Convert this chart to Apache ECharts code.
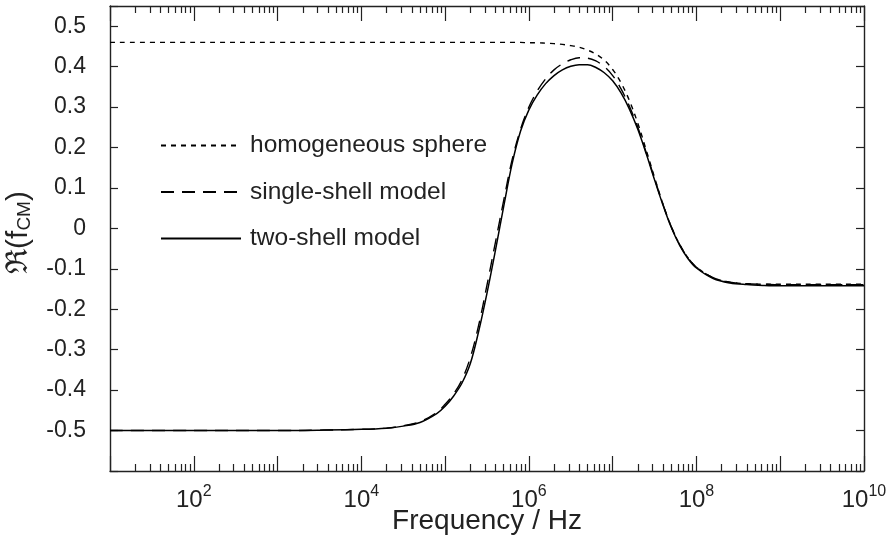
<!DOCTYPE html>
<html>
<head>
<meta charset="utf-8">
<script src="https://cdn.jsdelivr.net/npm/echarts@6/dist/echarts.min.js"></script>
<style>
html,body{margin:0;padding:0;background:#fff;}
#chart{width:894px;height:541px;}
</style>
</head>
<body>
<div id="chart"></div>
<script>
// log10 of frequency (Hz)
const logFreq = [1, 2, 3, 3.5, 4, 4.3, 4.5, 4.7, 4.9, 5.0, 5.1, 5.2, 5.3, 5.4, 5.5, 5.6, 5.7, 5.8, 5.9, 6.0,
  6.1, 6.2, 6.3, 6.4, 6.5, 6.6, 6.7, 6.8, 6.9, 7.0, 7.1, 7.2, 7.3, 7.4, 7.5, 7.6, 7.7, 7.8, 7.9, 8.0,
  8.2, 8.4, 8.6, 8.8, 9.0, 9.5, 10];

const homogeneousSphere = [0.46, 0.46, 0.46, 0.46, 0.46, 0.46, 0.46, 0.46, 0.46, 0.46, 0.46, 0.46, 0.46, 0.46, 0.46, 0.46, 0.46, 0.46, 0.46, 0.459,
  0.459, 0.458, 0.457, 0.455, 0.452, 0.448, 0.441, 0.431, 0.416, 0.393, 0.360, 0.316, 0.260, 0.194, 0.126, 0.060, 0.004, -0.040, -0.073, -0.096,
  -0.122, -0.133, -0.137, -0.138, -0.138, -0.138, -0.138];

const singleShell = [-0.5, -0.5, -0.5, -0.499, -0.497, -0.494, -0.488, -0.478, -0.455, -0.435, -0.41, -0.375, -0.32, -0.24, -0.14, -0.035, 0.07, 0.17, 0.245, 0.30,
  0.34, 0.37, 0.392, 0.407, 0.417, 0.422, 0.421, 0.414, 0.400, 0.378, 0.345, 0.302, 0.25, 0.188, 0.123, 0.06, 0.004, -0.04, -0.073, -0.096,
  -0.122, -0.133, -0.137, -0.138, -0.139, -0.139, -0.139];

const twoShell = [-0.5, -0.5, -0.5, -0.499, -0.497, -0.494, -0.489, -0.480, -0.458, -0.44, -0.415, -0.383, -0.335, -0.255, -0.16, -0.055, 0.055, 0.16, 0.24, 0.293,
  0.33, 0.358, 0.378, 0.392, 0.401, 0.405, 0.405, 0.398, 0.385, 0.365, 0.335, 0.295, 0.245, 0.185, 0.12, 0.058, 0.002, -0.042, -0.075, -0.098,
  -0.124, -0.135, -0.139, -0.141, -0.142, -0.142, -0.142];

const seriesNames = ['homogeneous sphere', 'single-shell model', 'two-shell model'];
const xMajorLabels = [2, 4, 6, 8, 10];
const yTickStep = 0.1;

const minorTicks = [];
for (let n = 1; n < 10; n++) {
  for (let k = 2; k <= 9; k++) minorTicks.push(n + Math.log10(k));
}

const FONT = '"Liberation Sans", Arial, sans-serif';
const TXT = '#222';
const AX = '#222';

function pairs(v) { return logFreq.map((x, i) => [x, v[i]]); }

const baseX = {
  type: 'value', min: 1, max: 10, interval: 1, gridIndex: 0,
  splitLine: { show: false },
  axisLine: { show: true, onZero: false, lineStyle: { color: AX, width: 1.4 } }
};

const chart = echarts.init(document.getElementById('chart'), null, { renderer: 'canvas' });
chart.setOption({
  backgroundColor: '#fff',
  animation: false,
  grid: { left: 110, right: 30, top: 6, bottom: 70, containLabel: false, outerBoundsMode: 'none' },
  legend: {
    orient: 'vertical', left: 160, top: 133, padding: 0,
    itemWidth: 80, itemHeight: 24, itemGap: 21.5,
    data: seriesNames,
    itemStyle: { opacity: 0 },
    textStyle: { fontSize: 24.5, color: TXT, fontFamily: FONT, padding: [0, 0, 0, 4] }
  },
  xAxis: [
    Object.assign({}, baseX, {
      position: 'bottom',
      axisTick: { show: true, inside: true, length: 15, lineStyle: { color: AX, width: 1.2 } },
      axisLabel: {
        show: true, margin: 13,
        formatter: v => xMajorLabels.indexOf(Math.round(v)) >= 0 && Math.abs(v - Math.round(v)) < 1e-6 ? '{b|10}{s|' + Math.round(v) + '}' : '',
        rich: {
          b: { fontSize: 24, fontFamily: FONT, color: TXT, lineHeight: 28, verticalAlign: 'bottom' },
          s: { fontSize: 16, fontFamily: FONT, color: TXT, lineHeight: 16, verticalAlign: 'top' }
        }
      },
      name: 'Frequency / Hz', nameLocation: 'middle', nameGap: 36, nameMoveOverlap: false,
      nameTextStyle: { fontSize: 28, fontFamily: FONT, color: TXT }
    }),
    Object.assign({}, baseX, {
      position: 'bottom',
      axisLine: { show: false, onZero: false },
      axisTick: { show: true, inside: true, length: 7, customValues: minorTicks, lineStyle: { color: AX, width: 1.2 } },
      axisLabel: { show: false }
    }),
    Object.assign({}, baseX, {
      position: 'top',
      axisTick: { show: true, inside: true, length: 15, lineStyle: { color: AX, width: 1.2 } },
      axisLabel: { show: false }
    }),
    Object.assign({}, baseX, {
      position: 'top',
      axisLine: { show: false, onZero: false },
      axisTick: { show: true, inside: true, length: 7, customValues: minorTicks, lineStyle: { color: AX, width: 1.2 } },
      axisLabel: { show: false }
    })
  ],
  yAxis: [
    {
      type: 'value', min: -0.6, max: 0.55, interval: yTickStep, position: 'left',
      splitLine: { show: false },
      axisLine: { show: true, onZero: false, lineStyle: { color: AX, width: 1.4 } },
      axisTick: { show: true, inside: true, length: 8, lineStyle: { color: AX, width: 1.2 } },
      axisLabel: {
        margin: 24, fontSize: 23, fontFamily: FONT, color: TXT,
        formatter: v => {
          const r = Math.round(v * 10) / 10;
          if (Math.abs(v - r) > 1e-6 || r < -0.55 || r > 0.55) return '';
          return r === 0 ? '0' : String(r);
        }
      },
      name: 'ℜ(f{sub|CM})', nameLocation: 'middle', nameRotate: 90, nameGap: 76, nameMoveOverlap: false,
      nameTextStyle: {
        fontSize: 30, fontFamily: FONT, color: TXT, padding: [0, 0, 0, 12],
        rich: { sub: { fontSize: 19, fontFamily: FONT, color: TXT, verticalAlign: 'bottom', lineHeight: 19 } }
      }
    },
    {
      type: 'value', min: -0.6, max: 0.55, interval: yTickStep, position: 'right',
      splitLine: { show: false },
      axisLine: { show: true, onZero: false, lineStyle: { color: AX, width: 1.4 } },
      axisTick: { show: true, inside: true, length: 8, lineStyle: { color: AX, width: 1.2 } },
      axisLabel: { show: false }
    }
  ],
  series: [
    {
      name: seriesNames[0], type: 'line', xAxisIndex: 0, yAxisIndex: 0, data: pairs(homogeneousSphere),
      symbol: 'none', smooth: 0.35, color: '#000',
      lineStyle: { color: '#000', width: 1.4, type: [5, 5] }
    },
    {
      name: seriesNames[1], type: 'line', xAxisIndex: 0, yAxisIndex: 0, data: pairs(singleShell),
      symbol: 'none', smooth: 0.35, color: '#000',
      lineStyle: { color: '#000', width: 1.4, type: [13, 8] }
    },
    {
      name: seriesNames[2], type: 'line', xAxisIndex: 0, yAxisIndex: 0, data: pairs(twoShell),
      symbol: 'none', smooth: 0.35, color: '#000',
      lineStyle: { color: '#000', width: 1.5, type: 'solid' }
    }
  ]
});
</script>
</body>
</html>
